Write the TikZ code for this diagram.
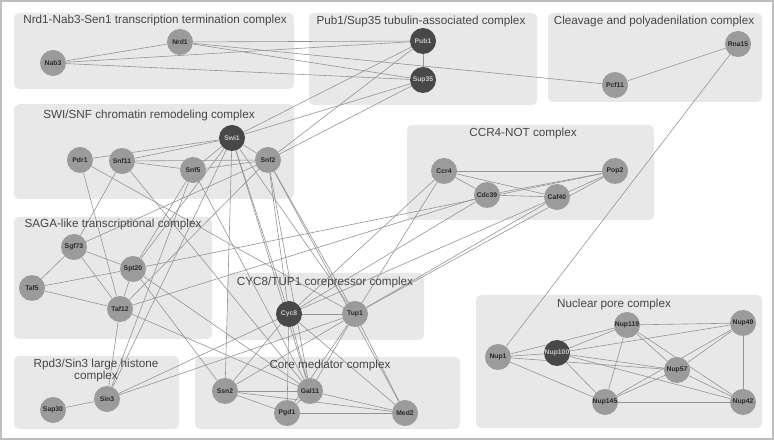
\documentclass[tikz,border=0pt]{standalone}
\usepackage{fontspec}
\setmainfont{Liberation Sans}
\pgfdeclarelayer{boxes}
\pgfdeclarelayer{edges}
\pgfsetlayers{boxes,edges,main}
\definecolor{boxc}{RGB}{232,232,233}
\definecolor{framec}{RGB}{190,190,190}
\definecolor{nodec}{RGB}{155,155,155}
\definecolor{darkc}{RGB}{72,72,72}
\definecolor{darktext}{RGB}{200,200,200}
\definecolor{labtext}{RGB}{40,40,40}
\definecolor{edgec}{RGB}{148,148,148}
\definecolor{titlec}{RGB}{70,70,70}
\tikzset{
  prot/.style={circle, fill=nodec, minimum size=26pt, inner sep=0pt,
    font=\fontsize{6.8}{7}\selectfont\bfseries, text=labtext},
  hub/.style={prot, fill=darkc, text=darktext},
  cbox/.style={fill=boxc, rounded corners=5pt},
  ctitle/.style={font=\fontsize{11.7}{13}\selectfont, text=titlec, inner sep=0pt},
  edge/.style={draw=edgec, line width=0.6pt}
}
\begin{document}
\begin{tikzpicture}[x=1pt,y=-1pt]
\useasboundingbox (0,0) rectangle (774,443);
\draw[framec, line width=2pt] (1,1) rectangle (772.5,439.5);
\begin{pgfonlayer}{boxes}
\path[cbox] (14,13) rectangle (294,89);
\path[cbox] (309,13) rectangle (537,105);
\path[cbox] (548,13) rectangle (762,102);
\path[cbox] (14,104) rectangle (294,199);
\path[cbox] (407,125) rectangle (654,220);
\path[cbox] (14,217) rectangle (212,339);
\path[cbox] (227,273) rectangle (424,340);
\path[cbox] (14,356) rectangle (179,429);
\path[cbox] (195,357) rectangle (460,429);
\path[cbox] (476,295) rectangle (762,428);
\end{pgfonlayer}
% titles
\node[ctitle] (t1) at (155,20) {Nrd1-Nab3-Sen1 transcription termination complex};
\node[ctitle] (t2) at (421,21) {Pub1/Sup35 tubulin-associated complex};
\node[ctitle] (t3) at (654,21) {Cleavage and polyadenilation complex};
\node[ctitle] (t4) at (149,115) {SWI/SNF chromatin remodeling complex};
\node[ctitle] (t5) at (523,133) {CCR4-NOT complex};
\node[ctitle] (t6) at (113,224) {SAGA-like transcriptional complex};
\node[ctitle] (t7) at (325,282) {CYC8/TUP1 corepressor complex};
\node[ctitle, align=center] (t8) at (96,370.5) {Rpd3/Sin3 large histone\\[-1.3pt]complex};
\node[ctitle] (t9) at (330,365) {Core mediator complex};
\node[ctitle] (t10) at (614,304) {Nuclear pore complex};
% proteins
\node[prot] (nrd1) at (180,42) {Nrd1};
\node[prot] (nab3) at (53,63) {Nab3};
\node[hub] (pub1) at (423,41) {Pub1};
\node[hub] (sup35) at (423,80) {Sup35};
\node[prot] (rna15) at (738,44) {Rna15};
\node[prot] (pcf11) at (615,85) {Pcf11};
\node[hub] (swi1) at (232,138) {Swi1};
\node[prot] (pdr1) at (80,160) {Pdr1};
\node[prot] (snf11) at (122,161) {Snf11};
\node[prot] (snf5) at (193,170) {Snf5};
\node[prot] (snf2) at (268,160) {Snf2};
\node[prot] (ccr4) at (444,171) {Ccr4};
\node[prot] (cdc39) at (487,195) {Cdc39};
\node[prot] (caf40) at (557,197) {Caf40};
\node[prot] (pop2) at (615,171) {Pop2};
\node[prot] (sgf73) at (74,247) {Sgf73};
\node[prot] (spt20) at (133,269) {Spt20};
\node[prot] (taf5) at (32,288) {Taf5};
\node[prot] (taf12) at (120,309) {Taf12};
\node[hub] (cyc8) at (289,314) {Cyc8};
\node[prot] (tup1) at (355,314) {Tup1};
\node[prot] (sin3) at (107,399) {Sin3};
\node[prot] (sap30) at (53,410) {Sap30};
\node[prot] (ssn2) at (225,391) {Ssn2};
\node[prot] (gal11) at (310,391) {Gal11};
\node[prot] (pgd1) at (287,413) {Pgd1};
\node[prot] (med2) at (405,413) {Med2};
\node[prot] (nup1) at (498,357) {Nup1};
\node[hub] (nup100) at (557,353) {Nup100};
\node[prot] (nup119) at (627,325) {Nup119};
\node[prot] (nup49) at (743,323) {Nup49};
\node[prot] (nup57) at (677,370) {Nup57};
\node[prot] (nup145) at (605,402) {Nup145};
\node[prot] (nup42) at (743,402) {Nup42};
% connectors
\begin{pgfonlayer}{edges}
\foreach \a/\b in {nab3/nrd1, nab3/pub1, nab3/sup35, nrd1/pub1, nrd1/sup35, nrd1/pcf11,
  pub1/sup35, pcf11/rna15, rna15/nup1, pub1/swi1, pub1/snf2, sup35/swi1, sup35/snf2,
  pdr1/swi1, snf11/swi1, snf11/snf5, snf11/snf2, snf5/swi1, snf5/snf2, swi1/snf2,
  pdr1/taf12, pdr1/tup1, snf11/sgf73, snf11/gal11, snf5/spt20, snf5/sin3, snf5/gal11,
  swi1/spt20, swi1/sin3, swi1/cyc8, swi1/tup1, swi1/gal11, swi1/ssn2,
  snf2/sgf73, snf2/taf12, snf2/cyc8, snf2/tup1, snf2/gal11, snf2/med2,
  sgf73/spt20, sgf73/taf5, sgf73/taf12, spt20/taf5, spt20/taf12, taf5/taf12,
  spt20/ssn2, spt20/gal11, spt20/pop2, taf12/cdc39, taf12/gal11, taf12/sin3,
  sin3/sap30, sin3/cyc8, sin3/tup1, cyc8/tup1, cyc8/ssn2, cyc8/gal11, cyc8/pgd1, cyc8/med2,
  tup1/ssn2, tup1/gal11, tup1/pgd1, tup1/med2, ccr4/cyc8, ccr4/tup1, cdc39/cyc8,
  caf40/cyc8, caf40/tup1, pop2/tup1, ccr4/pop2, ccr4/cdc39, ccr4/caf40, cdc39/caf40,
  cdc39/pop2, caf40/pop2, ssn2/gal11, ssn2/pgd1, ssn2/med2, gal11/pgd1, gal11/med2, pgd1/med2,
  nup1/nup100, nup1/nup119, nup1/nup57, nup1/nup145, nup100/nup119, nup100/nup49,
  nup100/nup57, nup100/nup145, nup100/nup42, nup119/nup49, nup119/nup57, nup119/nup145,
  nup119/nup42, nup49/nup57, nup49/nup42, nup49/nup145, nup57/nup145, nup57/nup42,
  nup145/nup42}
  \draw[edge] (\a) -- (\b);
\end{pgfonlayer}
\end{tikzpicture}
\end{document}
